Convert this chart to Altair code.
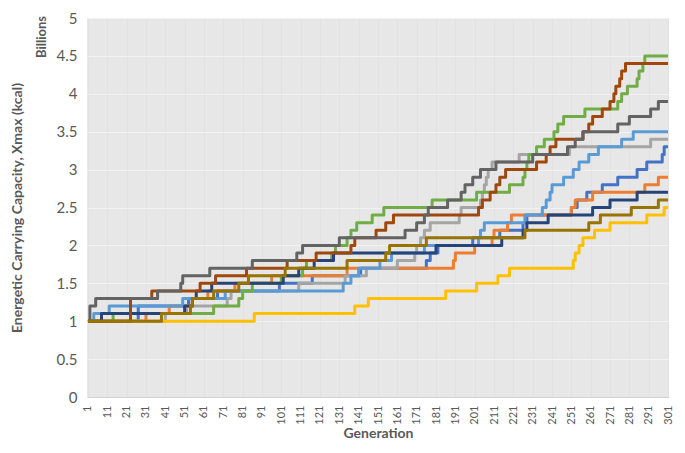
import altair as alt
import pandas as pd

# ---- data: change points (generation, value in billions kcal) ----
series_names = ["S1", "S2", "S3", "S4", "S5", "S6", "S7", "S8", "S9", "S10"]
series_colors = ["#4472C4", "#ED7D31", "#A5A5A5", "#FFC000", "#5B9BD5",
                 "#70AD47", "#264478", "#9E480E", "#636363", "#997300"]

s1_gen = [1, 27, 53, 68, 100, 117, 142, 176, 178, 182, 200, 214, 226, 228, 251, 254, 259, 267, 275, 285, 290, 298, 299, 301]
s1_val = [1.0, 1.2, 1.3, 1.4, 1.5, 1.6, 1.7, 1.8, 1.9, 2.0, 2.1, 2.2, 2.3, 2.4, 2.5, 2.6, 2.7, 2.8, 2.9, 3.0, 3.1, 3.2, 3.3, 3.3]

s2_gen = [1, 31, 43, 55, 63, 77, 96, 135, 190, 191, 201, 210, 211, 218, 220, 251, 253, 262, 289, 296, 301]
s2_val = [1.0, 1.1, 1.2, 1.3, 1.4, 1.5, 1.6, 1.7, 1.8, 1.9, 2.0, 2.1, 2.2, 2.3, 2.4, 2.5, 2.6, 2.7, 2.8, 2.9, 2.9]

s3_gen = [1, 41, 52, 73, 75, 110, 134, 145, 161, 170, 171, 173, 175, 178, 193, 194, 204, 205, 206, 207, 208, 210, 224, 250, 292, 301]
s3_val = [1.0, 1.1, 1.2, 1.3, 1.4, 1.5, 1.6, 1.7, 1.8, 1.9, 2.0, 2.1, 2.2, 2.3, 2.4, 2.5, 2.6, 2.7, 2.8, 2.9, 3.0, 3.1, 3.2, 3.3, 3.4, 3.4]

s4_gen = [1, 87, 139, 146, 186, 202, 213, 219, 252, 253, 255, 257, 263, 271, 290, 299, 301]
s4_val = [1.0, 1.1, 1.2, 1.3, 1.4, 1.5, 1.6, 1.7, 1.8, 1.9, 2.0, 2.1, 2.2, 2.3, 2.4, 2.5, 2.5]

s5_gen = [1, 4, 12, 50, 72, 133, 137, 141, 152, 158, 175, 203, 204, 206, 227, 236, 238, 240, 241, 247, 252, 255, 260, 265, 277, 283, 301]
s5_val = [1.0, 1.1, 1.2, 1.3, 1.4, 1.5, 1.6, 1.7, 1.8, 1.9, 2.0, 2.1, 2.2, 2.3, 2.4, 2.5, 2.6, 2.7, 2.8, 2.9, 3.0, 3.1, 3.2, 3.3, 3.4, 3.5, 3.5]

s6_gen = [1, 14, 66, 79, 81, 86, 101, 112, 114, 127, 129, 135, 137, 140, 148, 154, 179, 202, 219, 226, 227, 228, 229, 233, 237, 242, 244, 247, 258, 275, 277, 280, 285, 286, 288, 289, 301]
s6_val = [1.0, 1.1, 1.2, 1.3, 1.4, 1.5, 1.6, 1.7, 1.8, 1.9, 2.0, 2.1, 2.2, 2.3, 2.4, 2.5, 2.6, 2.7, 2.8, 2.9, 3.0, 3.1, 3.2, 3.3, 3.4, 3.5, 3.6, 3.7, 3.8, 3.9, 4.0, 4.1, 4.2, 4.3, 4.4, 4.5, 4.5]

s7_gen = [1, 8, 51, 55, 57, 65, 102, 110, 118, 128, 181, 215, 226, 228, 239, 262, 271, 285, 301]
s7_val = [1.0, 1.1, 1.2, 1.3, 1.4, 1.5, 1.6, 1.7, 1.8, 1.9, 2.0, 2.1, 2.2, 2.3, 2.4, 2.5, 2.6, 2.7, 2.7]

s8_gen = [1, 23, 34, 59, 67, 83, 104, 119, 137, 139, 150, 155, 159, 203, 205, 209, 212, 214, 217, 233, 238, 240, 243, 257, 260, 262, 267, 271, 273, 274, 276, 277, 279, 301]
s8_val = [1.0, 1.3, 1.4, 1.5, 1.6, 1.7, 1.8, 1.9, 2.0, 2.1, 2.2, 2.3, 2.4, 2.5, 2.6, 2.7, 2.8, 2.9, 3.0, 3.1, 3.2, 3.3, 3.4, 3.5, 3.6, 3.7, 3.8, 3.9, 4.0, 4.1, 4.2, 4.3, 4.4, 4.4]

s9_gen = [1, 2, 5, 37, 49, 50, 64, 86, 109, 112, 131, 165, 171, 175, 177, 187, 194, 196, 200, 204, 212, 231, 249, 253, 257, 275, 281, 292, 296, 301]
s9_val = [1.0, 1.2, 1.3, 1.4, 1.5, 1.6, 1.7, 1.8, 1.9, 2.0, 2.1, 2.2, 2.3, 2.4, 2.5, 2.6, 2.7, 2.8, 2.9, 3.0, 3.1, 3.2, 3.3, 3.4, 3.5, 3.6, 3.7, 3.8, 3.9, 3.9]

s10_gen = [1, 39, 54, 55, 66, 79, 84, 103, 135, 155, 157, 176, 227, 260, 266, 282, 296, 301]
s10_val = [1.0, 1.1, 1.2, 1.3, 1.4, 1.5, 1.6, 1.7, 1.8, 1.9, 2.0, 2.1, 2.2, 2.3, 2.4, 2.5, 2.6, 2.6]

x_ticks = list(range(1, 302, 10))
y_ticks = [0, 0.5, 1, 1.5, 2, 2.5, 3, 3.5, 4, 4.5, 5]

all_gens = [s1_gen, s2_gen, s3_gen, s4_gen, s5_gen, s6_gen, s7_gen, s8_gen, s9_gen, s10_gen]
all_vals = [s1_val, s2_val, s3_val, s4_val, s5_val, s6_val, s7_val, s8_val, s9_val, s10_val]

rows = []
for i, (name, gens, vals) in enumerate(zip(series_names, all_gens, all_vals)):
    for g, v in zip(gens, vals):
        rows.append({"series": name, "idx": i, "gen": g, "val": v})
df = pd.DataFrame(rows)

FONT = "Lato"
GREY = "#595959"

lines = alt.Chart(df).mark_line(
    interpolate="step-after", strokeWidth=3, strokeJoin="round"
).encode(
    x=alt.X("gen:Q",
            scale=alt.Scale(domain=[0.5, 301.5], nice=False, zero=False),
            axis=alt.Axis(values=x_ticks, labelAngle=270, title="Generation",
                          grid=True, gridColor="#e1e1e1", gridWidth=1,
                          ticks=False, domain=True, domainColor="#d4d4d4",
                          labelFontSize=11, labelPadding=8, labelColor=GREY,
                          labelFont=FONT, titleFont=FONT,
                          titleFontSize=14, titleFontWeight="bold", titleColor=GREY,
                          titleY=40, titleBaseline="alphabetic")),
    y=alt.Y("val:Q",
            scale=alt.Scale(domain=[0, 5], nice=False, zero=True),
            axis=alt.Axis(values=y_ticks, format="~g",
                          title="Energetic Carrying Capacity, Xmax (kcal)",
                          grid=True, gridColor="#f2f2f2", gridWidth=1,
                          ticks=False, domain=False,
                          labelFontSize=15, labelPadding=10, labelColor=GREY,
                          labelFont=FONT, titleFont=FONT,
                          titleFontSize=14, titleFontWeight="bold", titleColor=GREY,
                          titleX=-63, titleBaseline="bottom")),
    color=alt.Color("series:N", scale=alt.Scale(domain=series_names, range=series_colors),
                    legend=None, sort=series_names),
    order=alt.Order("gen:Q"),
)

billions = alt.Chart(pd.DataFrame({"t": ["Billions"]})).mark_text(
    angle=270, font=FONT, fontSize=13, fontWeight="bold", color=GREY,
    align="center", baseline="middle"
).encode(x=alt.value(-45), y=alt.value(19), text="t:N")

chart = alt.layer(lines, billions).properties(
    width=582, height=379,
    autosize=alt.AutoSizeParams(type="none"),
    padding={"left": 79, "top": 10, "right": 8, "bottom": 43},
    background="white",
).configure_view(fill="#e7e7e7", stroke=None)

chart.save("out.html", embed_options={"renderer": "svg", "actions": False})
